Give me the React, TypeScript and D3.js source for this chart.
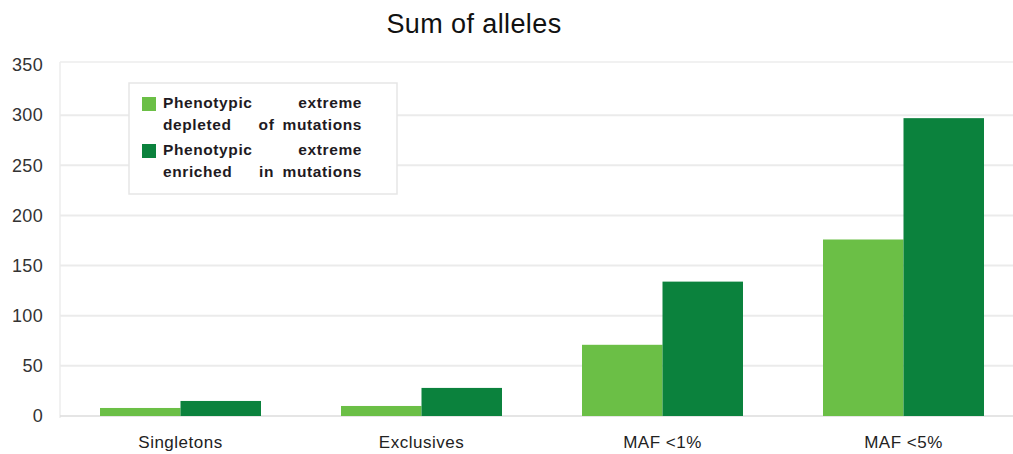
import React from "react";
import * as d3 from "d3";

const categories = ["Singletons", "Exclusives", "MAF <1%", "MAF <5%"];
const depleted = [8, 10, 71, 176];
const enriched = [15, 28, 134, 297];
const seriesNames = [
  ["Phenotypic", "extreme"],
  ["depleted", "of", "mutations"],
  ["Phenotypic", "extreme"],
  ["enriched", "in", "mutations"],
];
const yTicks = [0, 50, 100, 150, 200, 250, 300, 350];

const W = 1013;
const H = 454;
const LIGHT = "#6bbf46";
const DARK = "#0b823d";
const FONT = "'Liberation Sans', Arial, sans-serif";

function JustifiedLine({ words, x0, x1, y }: { words: string[]; x0: number; x1: number; y: number }) {
  const n = words.length;
  return (
    <>
      {words.map((w, i) => {
        const anchor = i === 0 ? "start" : i === n - 1 ? "end" : "middle";
        const x = i === 0 ? x0 : i === n - 1 ? x1 : x0 + ((x1 - x0) * i) / (n - 1) + 4;
        return (
          <text key={i} x={x} y={y} textAnchor={anchor} fontFamily={FONT} fontWeight="bold" fontSize={15.5} fill="#1e1a22" letterSpacing={0.6}>
            {w}
          </text>
        );
      })}
    </>
  );
}

export default function App() {
  const y = d3.scaleLinear().domain([0, 350]).range([416, 65]);
  const x0 = d3.scaleBand<string>().domain(categories).range([60, 1024]).paddingInner(0.332).paddingOuter(0.166);
  const x1 = d3.scaleBand<string>().domain(["d", "e"]).range([0, x0.bandwidth()]);

  return (
    <svg width={W} height={H} style={{ position: "absolute", left: 0, top: 0 }}>
      <rect x={0} y={0} width={W} height={H} fill="#fff" />
      <text x={474} y={33} textAnchor="middle" fontFamily={FONT} fontSize={27} fill="#111" letterSpacing={0.4}>
        Sum of alleles
      </text>
      {/* plot frame */}
      <line x1={60} x2={60} y1={62} y2={418} stroke="#ececec" strokeWidth={1.5} />
      <line x1={60} x2={W} y1={62} y2={62} stroke="#ececec" strokeWidth={1.5} />
      {yTicks.map((t) => (
        <g key={t}>
          {t > 0 && t < 350 && (
            <line x1={60} x2={W} y1={y(t)} y2={y(t)} stroke="#ebebeb" strokeWidth={2} />
          )}
          <text x={43} y={y(t)} dy="0.35em" textAnchor="end" fontFamily={FONT} fontSize={18} fill="#333" letterSpacing={0.3}>
            {t}
          </text>
        </g>
      ))}
      <line x1={60} x2={W} y1={y(0)} y2={y(0)} stroke="#dcdcdc" strokeWidth={1.5} />
      {categories.map((c, i) => (
        <g key={c} transform={`translate(${x0(c)},0)`}>
          <rect x={x1("d")} y={y(depleted[i])} width={x1.bandwidth()} height={y(0) - y(depleted[i])} fill={LIGHT} />
          <rect x={x1("e")} y={y(enriched[i])} width={x1.bandwidth()} height={y(0) - y(enriched[i])} fill={DARK} />
          <text x={x0.bandwidth() / 2} y={448} textAnchor="middle" fontFamily={FONT} fontSize={17} fill="#222" letterSpacing={0.5}>
            {c}
          </text>
        </g>
      ))}
      {/* legend */}
      <rect x={129} y={83} width={268} height={111} fill="#fff" stroke="#e6e6e6" strokeWidth={1.5} />
      <rect x={142} y={97} width={14} height={14} fill={LIGHT} />
      <rect x={142} y={144} width={14} height={14} fill={DARK} />
      <JustifiedLine words={seriesNames[0]} x0={163} x1={362} y={108} />
      <JustifiedLine words={seriesNames[1]} x0={163} x1={362} y={130} />
      <JustifiedLine words={seriesNames[2]} x0={163} x1={362} y={155} />
      <JustifiedLine words={seriesNames[3]} x0={163} x1={362} y={177} />
    </svg>
  );
}
